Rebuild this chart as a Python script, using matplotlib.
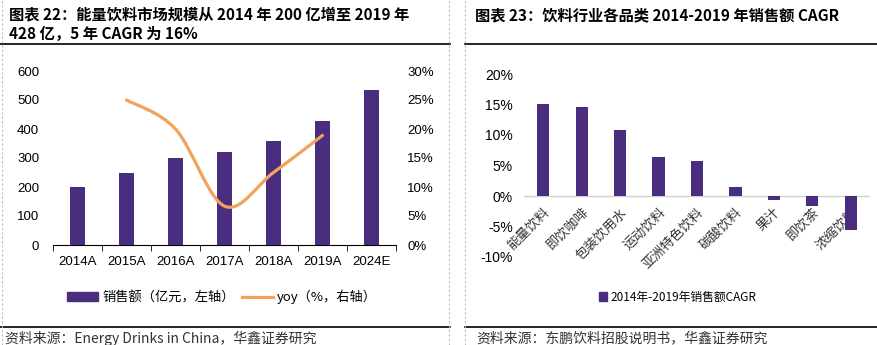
import numpy as np
import matplotlib
matplotlib.use('Agg')
import matplotlib.pyplot as plt
import matplotlib.patches as patches
from matplotlib.path import Path
from matplotlib.lines import Line2D

plt.rcParams['font.family'] = ['Liberation Sans', 'Noto Sans CJK SC', 'DejaVu Sans']

# --- data: left chart ---
years = ['2014A', '2015A', '2016A', '2017A', '2018A', '2019A', '2024E']
sales = [200, 250, 300, 320, 360, 428, 533]          # 亿元
yoy = [np.nan, 25.0, 20.0, 6.7, 12.5, 18.9, np.nan]   # %

# --- data: right chart ---
cats = ['能量饮料', '即饮咖啡', '包装饮用水', '运动饮料', '亚洲特色饮料',
        '碳酸饮料', '果汁', '即饮茶', '浓缩饮料']
cagr = [15.1, 14.6, 10.8, 6.4, 5.7, 1.5, -0.6, -1.6, -5.5]  # %

purple = '#4B2D7F'
orange = '#F2A25C'
cjk = ['Noto Sans CJK SC', 'DejaVu Sans']

W, H = 877, 345
fig = plt.figure(figsize=(W / 100, H / 100), dpi=100)

def fx(px):
    return px / W

def fy(py):
    return 1 - py / H

# --- frame: titles, rules, dashed separators ---
fig.text(fx(9), fy(14), '图表 22：能量饮料市场规模从 2014 年 200 亿增至 2019 年',
         family=cjk, weight='heavy', fontsize=11, va='center')
fig.text(fx(9), fy(34), '428 亿，5 年 CAGR 为 16%',
         family=cjk, weight='heavy', fontsize=11, va='center')
fig.text(fx(475), fy(15), '图表 23：饮料行业各品类 2014-2019 年销售额 CAGR',
         family=cjk, weight='heavy', fontsize=11, va='center')

for x0, x1 in [(0, 450), (465, 877)]:
    for yy in (44, 327):
        fig.add_artist(Line2D([fx(x0), fx(x1)], [fy(yy), fy(yy)],
                              transform=fig.transFigure, color='black', lw=1.2))
for xx in (2, 449, 465):
    fig.add_artist(Line2D([fx(xx), fx(xx)], [0, 1], transform=fig.transFigure,
                          color='#BBBBBB', lw=0.8, dashes=(2, 2)))

fig.text(fx(5), fy(338), '资料来源：Energy Drinks in China，华鑫证券研究',
         family=cjk, fontsize=10, color='#333333', va='center')
fig.text(fx(476), fy(338), '资料来源：东鹏饮料招股说明书，华鑫证券研究',
         family=cjk, fontsize=10, color='#333333', va='center')

# --- left chart ---
ax = fig.add_axes([fx(53), fy(245), fx(396) - fx(53), fy(71) - fy(245)])
x = np.arange(len(years))
ax.bar(x, sales, width=0.31, color=purple, zorder=2)
ax.set_xlim(-0.5, len(years) - 0.5)
ax.set_ylim(0, 600)
ax.set_yticks(range(0, 601, 100))
ax.set_xticks(x)
ax.set_xticklabels(years, fontsize=9.5)
ax.set_xticks(np.arange(-0.5, len(years), 1), minor=True)
ax.tick_params(axis='x', which='major', length=0, pad=8)
ax.tick_params(axis='x', which='minor', length=4, direction='out', color='black')
ax.tick_params(axis='y', length=0, labelsize=9.5, pad=10)
for s in ('top', 'left', 'right'):
    ax.spines[s].set_visible(False)
ax.spines['bottom'].set_color('black')

ax2 = ax.twinx()
ax2.set_ylim(0, 30)
ax2.set_yticks(range(0, 31, 5))
ax2.set_yticklabels([f'{v}%' for v in range(0, 31, 5)])
ax2.tick_params(axis='y', length=0, labelsize=9.5, pad=8)
for s in ax2.spines.values():
    s.set_visible(False)

# smoothed yoy line (Catmull-Rom as cubic Bezier through the points)
pts = np.array([(xi, v) for xi, v in zip(x, yoy) if not np.isnan(v)], float)
verts = [tuple(pts[0])]
codes = [Path.MOVETO]
n = len(pts)
for i in range(n - 1):
    p0 = pts[max(i - 1, 0)]
    p1 = pts[i]
    p2 = pts[i + 1]
    p3 = pts[min(i + 2, n - 1)]
    c1 = p1 + (p2 - p0) / 6
    c2 = p2 - (p3 - p1) / 6
    verts += [tuple(c1), tuple(c2), tuple(p2)]
    codes += [Path.CURVE4] * 3
ax2.add_patch(patches.PathPatch(Path(verts, codes), fill=False, ec=orange,
                                lw=2.3, capstyle='round', zorder=3))

h_bar = patches.Patch(color=purple)
h_line = Line2D([], [], color=orange, lw=2.3)
fig.legend([h_bar, h_line], ['销售额（亿元，左轴）', 'yoy（%，右轴）'],
           loc='center', bbox_to_anchor=(fx(222), fy(297)), ncol=2,
           frameon=False, handlelength=2.4, handletextpad=0.3, columnspacing=0.5,
           prop={'family': cjk, 'size': 9.5})

# --- right chart ---
bx = fig.add_axes([fx(524), fy(257), fx(870) - fx(524), fy(74) - fy(257)])
xc = np.arange(len(cats))
bx.bar(xc, cagr, width=0.32, color=purple, zorder=2)
bx.set_xlim(-0.5, len(cats) - 0.5)
bx.set_ylim(-10, 20)
bx.spines['bottom'].set_position(('data', 0))
for s in bx.spines.values():
    s.set_visible(False)
bx.set_yticks(range(-10, 21, 5))
bx.set_yticklabels([f'{v}%' for v in range(-10, 21, 5)])
bx.tick_params(axis='y', length=0, labelsize=10, pad=8)
bx.axhline(0, color='#D0D0D0', lw=1, zorder=1)
bx.set_xticks(xc)
bx.set_xticklabels(cats, rotation=45, ha='right', rotation_mode='anchor',
                   family=cjk, fontsize=9.5, color='#333333')
bx.tick_params(axis='x', length=0, pad=7)

fig.legend([patches.Patch(color=purple)], ['2014年-2019年销售额CAGR'],
           loc='center', bbox_to_anchor=(fx(678), fy(297)), frameon=False,
           handlelength=0.7, handleheight=0.7, handletextpad=0.3,
           prop={'family': cjk, 'size': 8.5})

fig.savefig('out.png', dpi=100)
